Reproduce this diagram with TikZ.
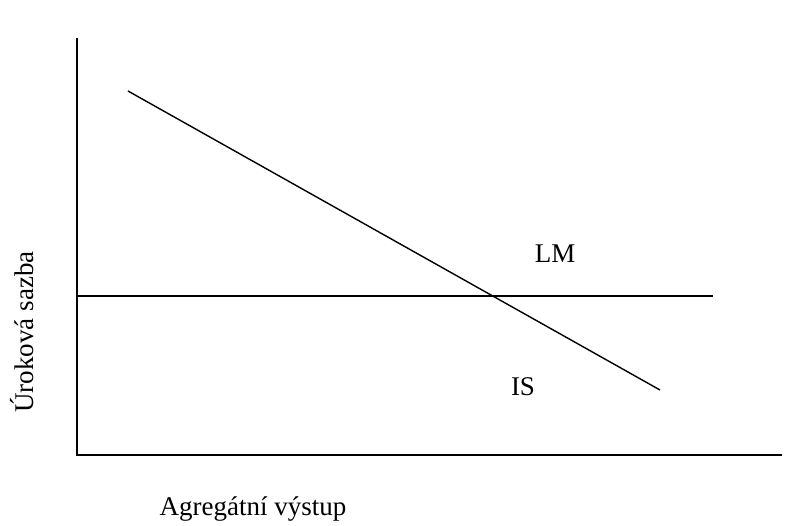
\documentclass[tikz,border=0pt]{standalone}
\usepackage{fontspec}
\setmainfont{Liberation Serif}
\usetikzlibrary{positioning}

\begin{document}
\begin{tikzpicture}[x=0.5pt, y=-0.5pt, line width=0.7pt, font=\fontsize{13.5}{16}\selectfont]
  \useasboundingbox (0,0) rectangle (798,525);
  % Axes
  \coordinate (origin) at (77,455);
  \coordinate (ytop) at (77,38);
  \coordinate (xend) at (782,455);
  \draw (ytop) -- (origin) -- (xend);
  \node[rotate=90] (ylab) at (22,332) {Úroková sazba};
  \node (xlab) at (253,509) {Agregátní výstup};

  % LM curve (flat)
  \coordinate (lmstart) at (77,296);
  \coordinate (lmend) at (713,296);
  \draw (lmstart) -- (lmend);
  \node (lmlab) at (555,254) {LM};

  % IS curve
  \coordinate (isstart) at (128,91);
  \coordinate (isend) at (660,390);
  \draw (isstart) -- (isend);
  \node (islab) at (523,387) {IS};
\end{tikzpicture}
\end{document}
